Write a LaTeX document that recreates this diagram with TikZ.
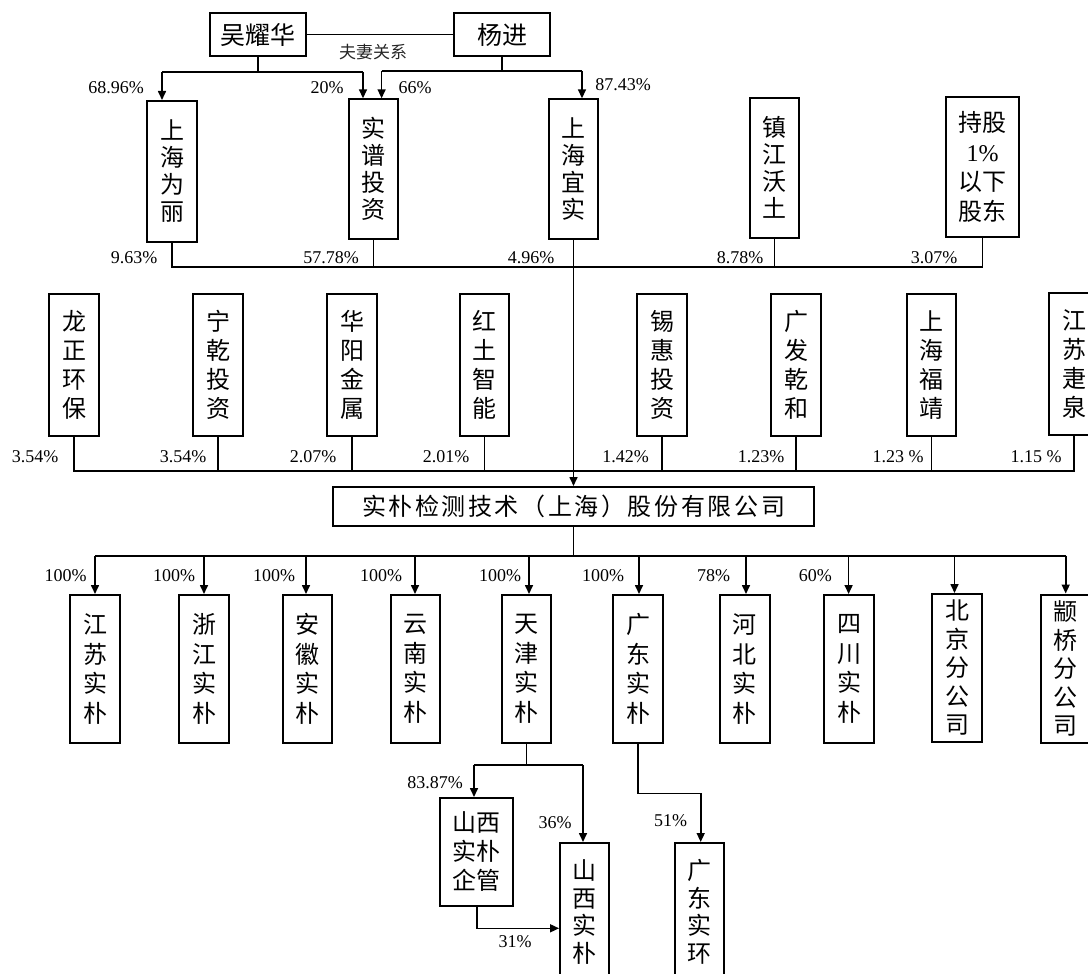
\documentclass[tikz,border=0pt]{standalone}
\usepackage{fontspec}
\setmainfont{Liberation Serif}
\newfontfamily\cjk{Noto Sans CJK SC}
\usetikzlibrary{arrows.meta}
\newcommand{\ls}{\hspace{2.6pt}}
\begin{document}
\begin{tikzpicture}[x=1pt,y=-1pt,
  box/.style={draw,line width=2pt,inner sep=0pt,align=center,font=\cjk\fontsize{24}{28}\selectfont},
  topbox/.style={box,font=\cjk\fontsize{24}{27}\selectfont},
  namebox/.style={box,font=\cjk\fontsize{25}{30}\selectfont,minimum width=96pt,minimum height=43pt},
  conn/.style={line width=1.6pt},
  arr/.style={line width=1.6pt,-{Triangle[length=9pt,width=8pt]}},
  pct/.style={font=\fontsize{18}{20}\selectfont,inner sep=0pt},
  note/.style={font=\cjk\fontsize{17}{20}\selectfont,inner sep=0pt,text=black!85}
]
\useasboundingbox (0,0) rectangle (1088,974);

% ---------- persons ----------
\node[namebox] (wyh) at (258,34.7) {吴耀华};
\node[namebox] (yj) at (502,34.7) {杨进};
\draw[conn] (wyh.east) -- (yj.west);
\node[note] (fq) at (373,52) {夫妻关系};

% ---------- top shareholders ----------
\node[topbox,minimum width=50pt,minimum height=141pt] (shwl) at (172,171.5) {上\\海\\为\\丽};
\node[topbox,minimum width=49pt,minimum height=140pt] (sptz) at (373.5,169.3) {实\\谱\\投\\资};
\node[topbox,minimum width=49pt,minimum height=140pt] (shys) at (573.5,169.3) {上\\海\\宜\\实};
\node[topbox,minimum width=49pt,minimum height=140pt] (zjwt) at (774.5,167.7) {镇\\江\\沃\\土};
\node[box,font=\cjk\fontsize{24}{29.5}\selectfont,minimum width=73pt,minimum height=140pt] (cg) at (982.5,166.7) {持股\\{\rmfamily\fontsize{24}{29.5}\selectfont 1\%}\\以下\\股东};

\coordinate (wL) at (162,72);
\coordinate (wR) at (363,72);
\coordinate (yL) at (381.6,71);
\coordinate (yR) at (582,71);
\draw[conn] (wyh.south) -- (wyh.south |- wL);
\draw[conn] (wL) -- (wR);
\draw[arr] (wL) -- (wL |- shwl.north);
\draw[arr] (wR) -- (wR |- sptz.north);
\draw[conn] (yj.south) -- (yj.south |- yL);
\draw[conn] (yL) -- (yR);
\draw[arr] (yL) -- (yL |- sptz.north);
\draw[arr] (yR) -- (yR |- shys.north);

\node[pct] (p1) at (116,87.3) {68.96\%};
\node[pct] (p2) at (327,88) {20\%};
\node[pct] (p3) at (415,88) {66\%};
\node[pct] (p4) at (623,85) {87.43\%};

\coordinate (b1) at (0,266.7);
\draw[conn] (shwl.south) -- (shwl.south |- b1) -- (cg.south |- b1) -- (cg.south);
\draw[conn] (sptz.south) -- (sptz.south |- b1);
\draw[conn] (zjwt.south) -- (zjwt.south |- b1);

\node[pct] (q1) at (134,257.7) {9.63\%};
\node[pct] (q2) at (331,257.7) {57.78\%};
\node[pct] (q3) at (531,257.7) {4.96\%};
\node[pct] (q4) at (740,257.7) {8.78\%};
\node[pct] (q5) at (934,257.7) {3.07\%};

% ---------- second row shareholders ----------
\tikzset{rowbox/.style={box,font=\cjk\fontsize{24}{29}\selectfont,minimum width=49.5pt,minimum height=142pt}}
\node[rowbox] (lzhb) at (74,365) {龙\\正\\环\\保};
\node[rowbox] (nqtz) at (218,365) {宁\\乾\\投\\资};
\node[rowbox] (hyjs) at (352,365) {华\\阳\\金\\属};
\node[rowbox] (htzn) at (484.5,365) {红\\土\\智\\能};
\node[rowbox] (xhtz) at (662,365) {锡\\惠\\投\\资};
\node[rowbox] (gfqh) at (796,365) {广\\发\\乾\\和};
\node[rowbox] (shfj) at (931.5,365) {上\\海\\福\\靖};
\node[rowbox] (jsjq) at (1074,364) {江\\苏\\疌\\泉};

\coordinate (b2) at (0,470.7);
\draw[conn] (lzhb.south) -- (lzhb.south |- b2) -- (jsjq.south |- b2) -- (jsjq.south);
\foreach \n in {nqtz,hyjs,htzn,xhtz,gfqh,shfj}
  \draw[conn] (\n.south) -- (\n.south |- b2);

\node[pct] (r1) at (35,456.7) {3.54\%};
\node[pct] (r2) at (183,456.7) {3.54\%};
\node[pct] (r3) at (313,456.7) {2.07\%};
\node[pct] (r4) at (446,456.7) {2.01\%};
\node[pct] (r5) at (625.6,456.7) {1.42\%};
\node[pct] (r6) at (761,456.7) {1.23\%};
\node[pct] (r7) at (898,456.7) {1.23 \%};
\node[pct] (r8) at (1036,456.7) {1.15 \%};

% ---------- company ----------
\node[box,font=\cjk\fontsize{24}{28}\selectfont,minimum width=481pt,minimum height=39pt] (main) at (573.5,506.5)
  {实\ls 朴\ls 检\ls 测\ls 技\ls 术\ls （\ls 上\ls 海\ls ）\ls 股\ls 份\ls 有\ls 限\ls 公\ls 司};
\draw[arr] (shys.south) -- (main.north);

% ---------- subsidiaries ----------
\tikzset{subbox/.style={box,font=\cjk\fontsize{24}{29.5}\selectfont,minimum width=49.5pt,minimum height=148pt}}
\node[subbox] (jssp) at (95,669) {江\\苏\\实\\朴};
\node[subbox] (zjsp) at (204,669) {浙\\江\\实\\朴};
\node[subbox] (ahsp) at (307.7,669) {安\\徽\\实\\朴};
\node[subbox] (ynsp) at (415.5,669) {云\\南\\实\\朴};
\node[subbox] (tjsp) at (526.3,669) {天\\津\\实\\朴};
\node[subbox] (gdsp) at (638.2,669) {广\\东\\实\\朴};
\node[subbox] (hbsp) at (744.8,669) {河\\北\\实\\朴};
\node[subbox] (scsp) at (849,669) {四\\川\\实\\朴};
\node[box,font=\cjk\fontsize{24}{28.5}\selectfont,minimum width=49.5pt,minimum height=148pt] (bjfgs) at (957.2,668) {北\\京\\分\\公\\司};
\node[box,font=\cjk\fontsize{24}{28.5}\selectfont,minimum width=49.5pt,minimum height=148pt] (zqfgs) at (1065.7,668.5) {颛\\桥\\分\\公\\司};

\coordinate (b3) at (0,555.7);
\draw[conn] (main.south) -- (main.south |- b3);
\coordinate (c1) at (95,555.7);
\coordinate (c2) at (204,555.7);
\coordinate (c3) at (306,555.7);
\coordinate (c4) at (415,555.7);
\coordinate (c5) at (529,555.7);
\coordinate (c6) at (639,555.7);
\coordinate (c7) at (746,555.7);
\coordinate (c8) at (848.6,555.7);
\coordinate (c9) at (954.5,555.7);
\coordinate (c10) at (1065.7,555.7);
\draw[conn] (c1) -- (c10);
\draw[arr] (c1) -- (c1 |- jssp.north);
\draw[arr] (c2) -- (c2 |- zjsp.north);
\draw[arr] (c3) -- (c3 |- ahsp.north);
\draw[arr] (c4) -- (c4 |- ynsp.north);
\draw[arr] (c5) -- (c5 |- tjsp.north);
\draw[arr] (c6) -- (c6 |- gdsp.north);
\draw[arr] (c7) -- (c7 |- hbsp.north);
\draw[arr] (c8) -- (c8 |- scsp.north);
\draw[arr] (c9) -- (c9 |- bjfgs.north);
\draw[arr] (c10) -- (c10 |- zqfgs.north);

\node[pct] (s1) at (65.6,575.7) {100\%};
\node[pct] (s2) at (174,575.7) {100\%};
\node[pct] (s3) at (274,575.7) {100\%};
\node[pct] (s4) at (381,575.7) {100\%};
\node[pct] (s5) at (500,575.7) {100\%};
\node[pct] (s6) at (603,575.7) {100\%};
\node[pct] (s7) at (713.7,575.7) {78\%};
\node[pct] (s8) at (815.4,575.7) {60\%};

% ---------- second level ----------
\node[box,font=\cjk\fontsize{24}{29}\selectfont,minimum width=73.3pt,minimum height=108pt] (sxqg) at (476.7,852) {山西\\实朴\\企管};
\node[box,font=\cjk\fontsize{24}{27.5}\selectfont,minimum width=49.3pt,minimum height=138pt] (sxsp) at (584.7,912) {山\\西\\实\\朴};
\node[box,font=\cjk\fontsize{24}{27.5}\selectfont,minimum width=49pt,minimum height=138pt] (gdsh) at (699.3,912) {广\\东\\实\\环};

\coordinate (t1) at (474,765);
\coordinate (t2) at (583,765);
\draw[conn] (tjsp.south) -- (tjsp.south |- t1);
\draw[conn] (t1) -- (t2);
\draw[arr] (t1) -- (t1 |- sxqg.north);
\draw[arr] (t2) -- (t2 |- sxsp.north);
\coordinate (k1) at (476.7,928.3);
\draw[arr] (sxqg.south) -- (k1) -- (k1 -| sxsp.west);
\coordinate (g1) at (638.2,793.3);
\coordinate (g2) at (700.7,793.3);
\draw[arr] (gdsp.south) -- (g1) -- (g2) -- (g2 |- gdsh.north);

\node[pct] (u1) at (435,783) {83.87\%};
\node[pct] (u2) at (555,822.7) {36\%};
\node[pct] (u3) at (515,941.7) {31\%};
\node[pct] (u4) at (670.7,820.7) {51\%};
\end{tikzpicture}
\end{document}
